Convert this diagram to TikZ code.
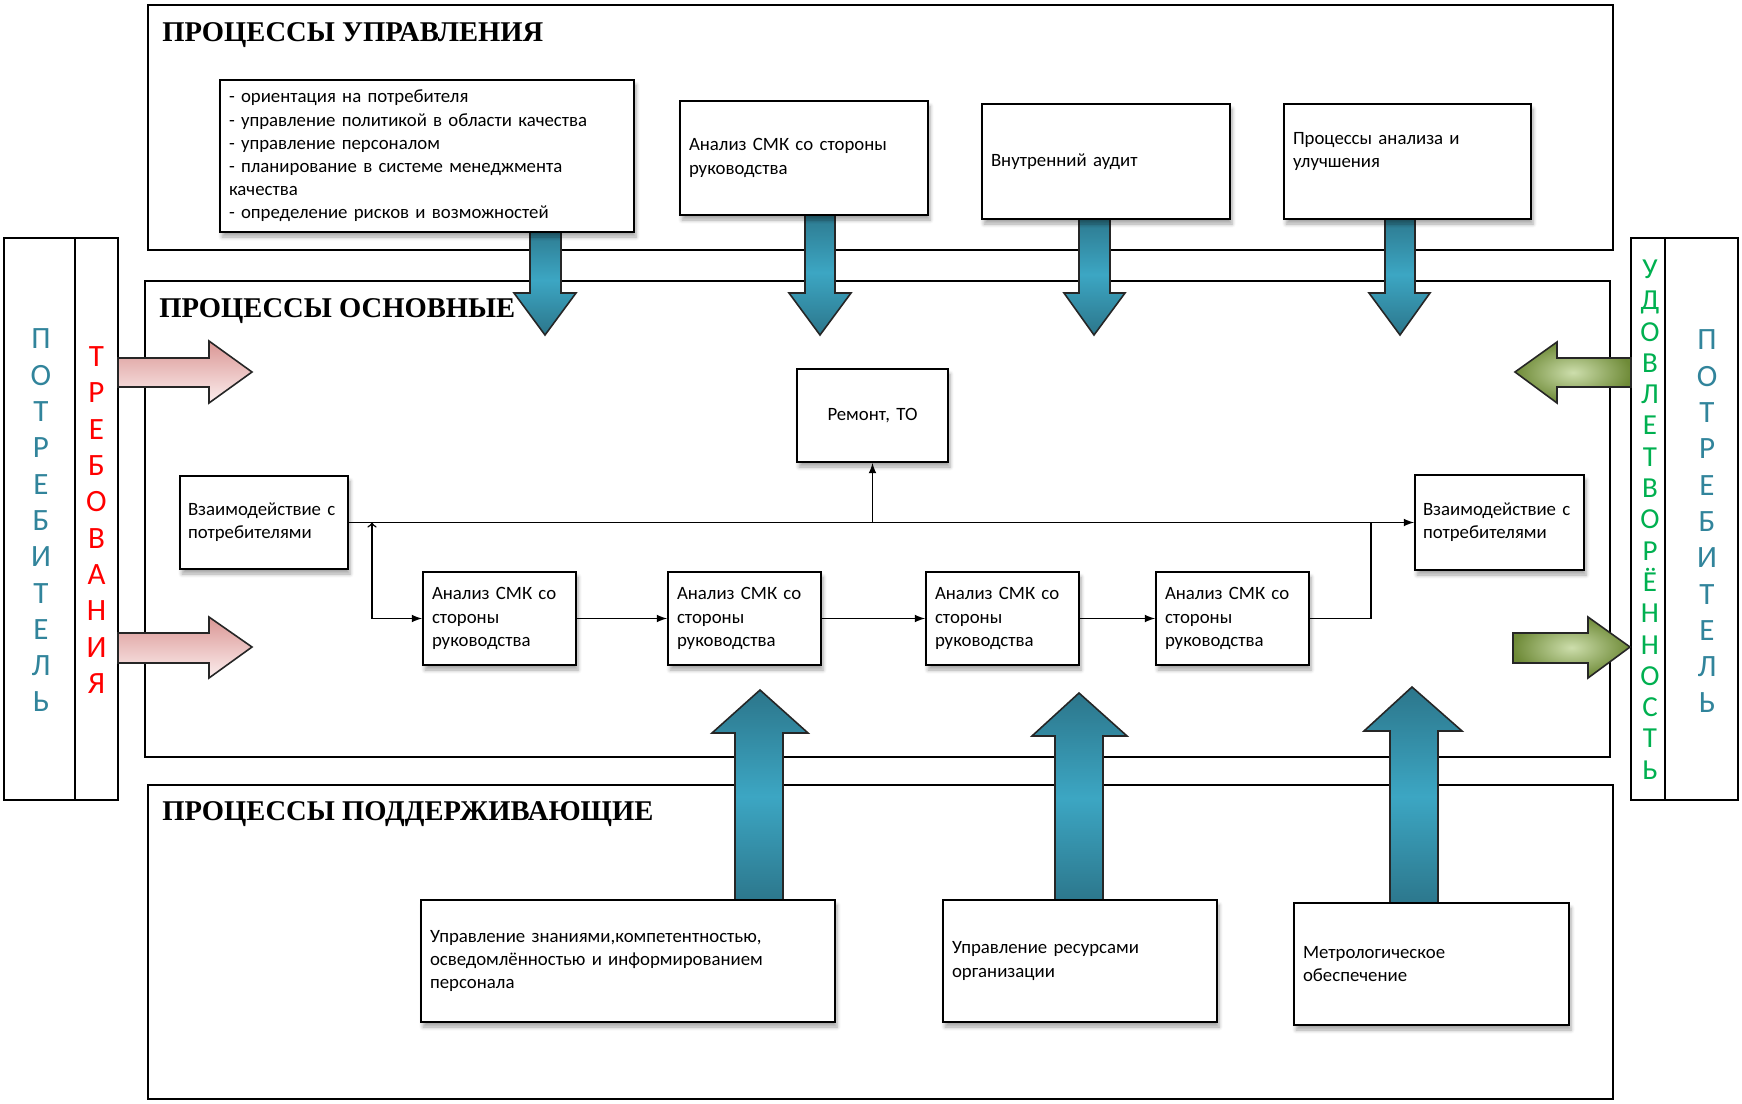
\documentclass[tikz,border=0pt]{standalone}
\usepackage{fontspec}
\setmainfont{Carlito}
\newfontfamily\headfont{Liberation Serif}
\usepackage{tikz}
\usepackage{color}
\usetikzlibrary{shadows.blur}

\definecolor{tealtext}{RGB}{49,132,155}
\definecolor{redtext}{RGB}{255,0,0}
\definecolor{greentext}{RGB}{0,176,80}
\definecolor{bluedark}{RGB}{44,118,139}
\definecolor{bluelight}{RGB}{60,166,195}
\definecolor{pinkdark}{RGB}{218,150,148}
\definecolor{pinklight}{RGB}{252,238,238}
\definecolor{greendark}{RGB}{110,138,55}
\definecolor{greenlight}{RGB}{205,222,172}

\begin{document}
\begin{tikzpicture}[x=0.5pt,y=0.5pt,yscale=-1,
  box/.style={draw, line width=1pt, fill=white, anchor=north west, align=left,
    inner xsep=4.5pt, inner ysep=2pt, font=\fontsize{9.4}{11.6}\selectfont,
    blur shadow={shadow xshift=1pt, shadow yshift=-2.5pt, shadow blur steps=5, shadow opacity=35}},
  head/.style={anchor=base west, inner sep=0pt, font=\headfont\bfseries\fontsize{14.3}{16}\selectfont},
  letters/.style={align=center, inner sep=0pt, font=\fontsize{15.5}{18.15}\selectfont},
  section/.style={line width=1pt},
  bluearrow/.style={draw=black!85, line width=0.8pt, top color=bluedark, bottom color=bluedark, middle color=bluelight},
  pinkarrow/.style={draw=black!85, line width=0.8pt, top color=pinkdark, bottom color=pinklight},
  greenarrow/.style={draw=black!85, line width=0.8pt, inner color=greenlight, outer color=greendark},
  link/.style={line width=0.75pt}
]
\useasboundingbox (0,0) rectangle (1742,1104);

%Shape: Rectangle [sections]
\draw[section] (148,5) rectangle (1613,250);
\draw[section] (145,281) rectangle (1610,757);
\draw[section] (148,785) rectangle (1613,1099);

%Shape: Rectangle [customer panels]
\draw[section] (4,238) rectangle (75,800);
\draw[section] (75,238) rectangle (118,800);
\draw[section] (1631,238) rectangle (1665,800);
\draw[section] (1665,238) rectangle (1738,800);

%Shape: Polygon [down arrows]
\draw[bluearrow] (530,225) -- (561,225) -- (561,293) -- (576,293) -- (545,335) -- (514,293) -- (530,293) -- cycle ;
\draw[bluearrow] (805,210) -- (835,210) -- (835,293) -- (851,293) -- (820,335) -- (789,293) -- (805,293) -- cycle ;
\draw[bluearrow] (1079,214) -- (1110,214) -- (1110,293) -- (1125,293) -- (1094,335) -- (1064,293) -- (1079,293) -- cycle ;
\draw[bluearrow] (1385,214) -- (1415,214) -- (1415,293) -- (1430,293) -- (1400,335) -- (1369,293) -- (1385,293) -- cycle ;

%Shape: Polygon [up arrows]
\draw[bluearrow] (735,903) -- (735,733) -- (712,733) -- (760,690) -- (808,733) -- (783,733) -- (783,903) -- cycle ;
\draw[bluearrow] (1055,903) -- (1055,736) -- (1032,736) -- (1079,693) -- (1127,736) -- (1103,736) -- (1103,903) -- cycle ;
\draw[bluearrow] (1390,906) -- (1390,731) -- (1364,731) -- (1412,687) -- (1462,731) -- (1438,731) -- (1438,906) -- cycle ;

%Shape: Polygon [requirements arrows]
\draw[pinkarrow] (118,358) -- (209,358) -- (209,341) -- (252,372) -- (209,403) -- (209,387) -- (118,387) -- cycle ;
\draw[pinkarrow] (118,633) -- (209,633) -- (209,617) -- (252,647) -- (209,678) -- (209,663) -- (118,663) -- cycle ;

%Shape: Polygon [satisfaction arrows]
\draw[greenarrow] (1631,358) -- (1557,358) -- (1557,342) -- (1515,372) -- (1557,403) -- (1557,387) -- (1631,387) -- cycle ;
\draw[greenarrow] (1513,633) -- (1588,633) -- (1588,617) -- (1630,647) -- (1588,678) -- (1588,663) -- (1513,663) -- cycle ;

%Titles
\node[head] (ttop) at (162,41) {ПРОЦЕССЫ УПРАВЛЕНИЯ};
\node[head] (tmid) at (159,317) {ПРОЦЕССЫ ОСНОВНЫЕ};
\node[head] (tbot) at (162,820) {ПРОЦЕССЫ ПОДДЕРЖИВАЮЩИЕ};

%Side letters
\node[letters, text=tealtext] (custleft) at (41,520.5) {П\\О\\Т\\Р\\Е\\Б\\И\\Т\\Е\\Л\\Ь};
\node[letters, text=redtext] (reqs) at (96.5,520) {Т\\Р\\Е\\Б\\О\\В\\А\\Н\\И\\Я};
\node[letters, text=greentext, font=\fontsize{14.5}{15.65}\selectfont] (satisf) at (1650,519.5) {У\\Д\\О\\В\\Л\\Е\\Т\\В\\О\\Р\\Ё\\Н\\Н\\О\\С\\Т\\Ь};
\node[letters, text=tealtext] (custright) at (1707,521.5) {П\\О\\Т\\Р\\Е\\Б\\И\\Т\\Е\\Л\\Ь};

%Management boxes
\node[box, minimum width=207pt, minimum height=76pt, text width=198pt] (goals) at (219,79) {- ориентация на потребителя\\- управление политикой в области качества\\- управление персоналом\\- планирование в системе менеджмента\\качества\\- определение рисков и возможностей};
\node[box, minimum width=124pt, minimum height=57pt, text width=115pt] (review) at (679,100) {Анализ СМК со стороны\\руководства};
\node[box, minimum width=124pt, minimum height=57.5pt, text width=115pt] (audit) at (981,103) {Внутренний аудит};
\node[box, minimum width=123.5pt, minimum height=57.5pt, text width=114.5pt] (improve) at (1283,103) {Процессы анализа и\\улучшения\\~};

%Main boxes
\node[box, align=center, minimum width=75.5pt, minimum height=46.5pt, text width=66.5pt] (repair) at (796,368) {Ремонт, ТО};
\node[box, minimum width=84pt, minimum height=46.5pt, text width=76pt, inner xsep=4pt] (custin) at (179,475) {Взаимодействие с\\потребителями};
\node[box, minimum width=84.5pt, minimum height=47.5pt, text width=76.5pt, inner xsep=4pt] (custout) at (1414,474) {Взаимодействие с\\потребителями};
\node[box, minimum width=76.5pt, minimum height=46.5pt, text width=67.5pt] (ana1) at (422,571) {Анализ СМК со\\стороны\\руководства};
\node[box, minimum width=76.5pt, minimum height=46.5pt, text width=67.5pt] (ana2) at (667,571) {Анализ СМК со\\стороны\\руководства};
\node[box, minimum width=76.5pt, minimum height=46.5pt, text width=67.5pt] (ana3) at (925,571) {Анализ СМК со\\стороны\\руководства};
\node[box, minimum width=76.5pt, minimum height=46.5pt, text width=67.5pt] (ana4) at (1155,571) {Анализ СМК со\\стороны\\руководства};

%Support boxes
\node[box, minimum width=207pt, minimum height=61pt, text width=198pt] (knowledge) at (420,899) {Управление знаниями,компетентностью,\\осведомлённостью и информированием\\персонала};
\node[box, minimum width=137pt, minimum height=61pt, text width=128pt] (resources) at (942,899) {Управление ресурсами\\организации};
\node[box, minimum width=137.5pt, minimum height=61pt, text width=128.5pt] (metrology) at (1293,902) {Метрологическое\\обеспечение};

%Straight Lines
\path (custin.east) ++(23,0) coordinate (split);
\path (custin.east -| ana4.east) ++(61,0) coordinate (merge);
\draw[link, -latex] (custin.east) -- (custin.east -| custout.west);
\draw[link, -latex] (repair.south |- custin.east) -- (repair.south);
\draw[link, to-latex] (split) |- (ana1.west);
\draw[link, -latex] (ana1.east) -- (ana2.west);
\draw[link, -latex] (ana2.east) -- (ana3.west);
\draw[link, -latex] (ana3.east) -- (ana4.west);
\draw[link] (ana4.east) -| (merge);

\end{tikzpicture}
\end{document}
